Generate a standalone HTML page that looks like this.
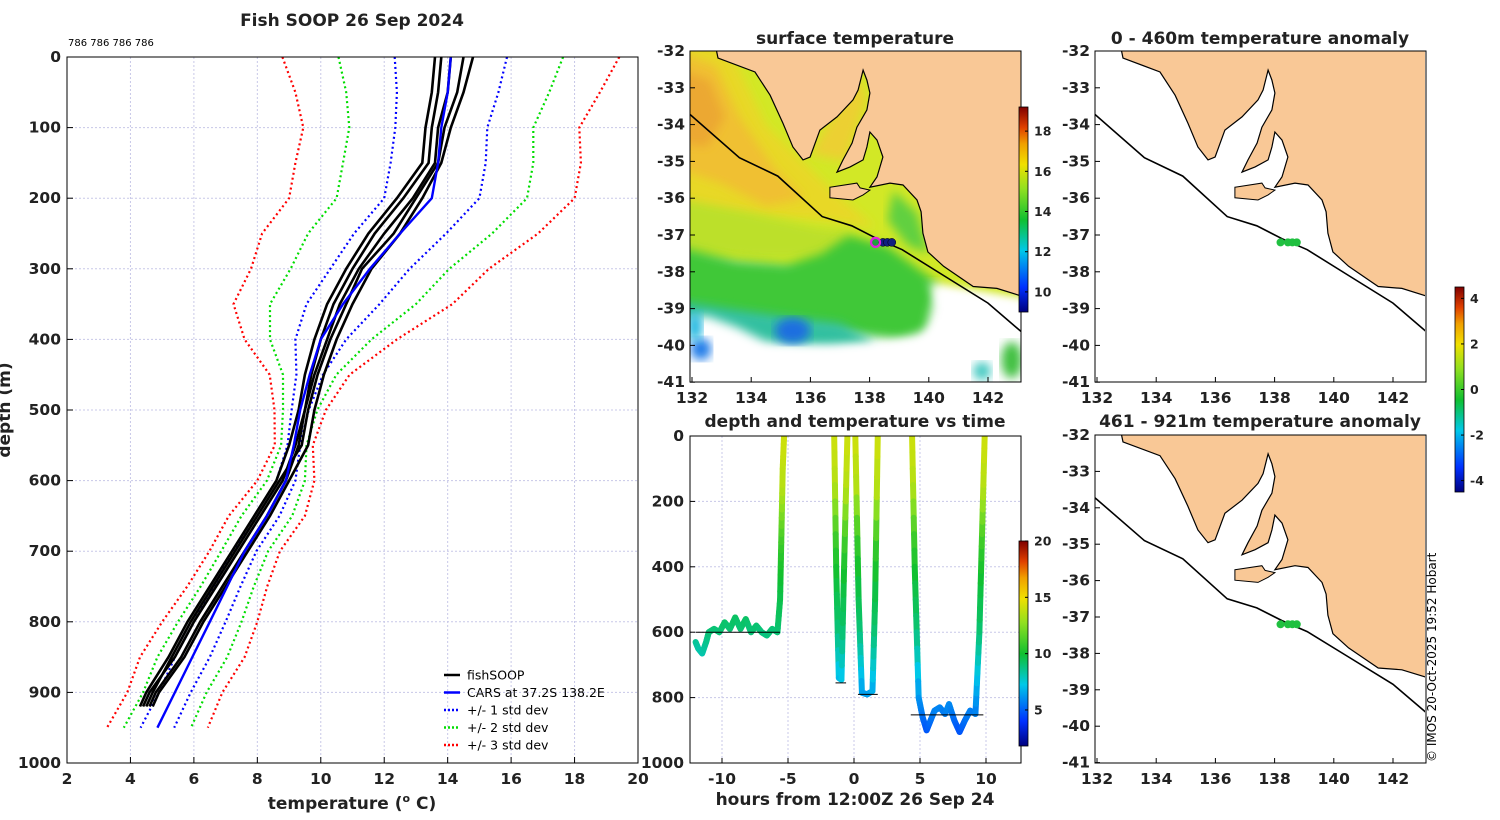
<!DOCTYPE html>
<html><head><meta charset="utf-8"><style>
html,body{margin:0;padding:0;background:#fff}
svg{display:block;font-family:"DejaVu Sans","Liberation Sans",sans-serif}
.t{font-weight:bold;font-size:17px;fill:#222}
.tk{font-weight:bold;font-size:15.5px;fill:#222}
</style></head><body>
<svg id="fig" width="1500" height="820" viewBox="0 0 1500 820" xmlns="http://www.w3.org/2000/svg">
<defs>
<linearGradient id="cm" x1="0" y1="1" x2="0" y2="0">
<stop offset="0" stop-color="#00007f"/><stop offset="0.12" stop-color="#0030ff"/><stop offset="0.3" stop-color="#00c8e8"/><stop offset="0.45" stop-color="#10c030"/><stop offset="0.6" stop-color="#90e020"/><stop offset="0.72" stop-color="#f0e000"/><stop offset="0.82" stop-color="#f0a000"/><stop offset="0.9" stop-color="#e04000"/><stop offset="1" stop-color="#7f0000"/>
</linearGradient>
<clipPath id="clipL"><rect x="67" y="57" width="571" height="706"/></clipPath>
<clipPath id="clipM1"><rect x="690" y="51" width="331" height="331"/></clipPath>
<clipPath id="clipM2"><rect x="690" y="436" width="331" height="327"/></clipPath>
<clipPath id="clipR1"><rect x="1095" y="51" width="330" height="331"/></clipPath>
<clipPath id="clipR2"><rect x="1095" y="435" width="330" height="328"/></clipPath>
<filter id="blur"><feGaussianBlur stdDeviation="5"/></filter>
</defs>
<text class="t" x="352" y="26" text-anchor="middle" font-size="17.5">Fish SOOP 26 Sep 2024</text>
<text x="68" y="46" font-size="10" fill="#000">786 786 786 786</text>
<text class="t" transform="translate(10,410) rotate(-90)" text-anchor="middle">depth (m)</text>
<text class="t" x="352" y="809" text-anchor="middle">temperature (<tspan font-size="11" dy="-7">o</tspan><tspan dy="7"> C)</tspan></text>
<text class="t" x="855" y="44" text-anchor="middle">surface temperature</text>
<text class="t" x="855" y="427" text-anchor="middle">depth and temperature vs time</text>
<text class="t" x="855" y="805" text-anchor="middle">hours from 12:00Z 26 Sep 24</text>
<text class="t" x="1260" y="44" text-anchor="middle">0 - 460m temperature anomaly</text>
<text class="t" x="1260" y="427" text-anchor="middle">461 - 921m temperature anomaly</text>
<text transform="translate(1436,762) rotate(-90)" font-size="12" fill="#000">© IMOS 20-Oct-2025 19:52 Hobart</text>
<g id="gL"></g>
<g id="gM1"></g>
<g id="gM2"></g>
<g id="gR1"></g>
<g id="gR2"></g>
<g id="gCB"></g>
</svg>
<script>
// ---- data ----
const depthStd = [0,50,100,150,200,250,300,350,400,450,500,550,600,650,700,750,800,850,900,950];
const carsTemp = [14.1,14.0,13.8,13.7,13.5,12.5,11.55,10.7,10.0,9.65,9.35,9.15,8.9,8.3,7.6,7.05,6.5,5.95,5.4,4.85];
const carsStd  = [1.77,1.6,1.45,1.5,1.5,1.45,1.25,1.15,0.8,0.42,0.27,0.2,0.3,0.4,0.37,0.42,0.5,0.55,0.5,0.53];
const fishDepth = [0,50,100,150,200,250,300,350,400,450,500,550,600,650,700,750,800,850,900,920];
const castA = [13.8,13.7,13.5,13.4,12.6,11.7,11.0,10.4,10.0,9.7,9.5,9.2,8.8,8.1,7.4,6.7,6.0,5.4,4.6,4.4];
const castB = [14.1,14.0,13.7,13.6,12.9,12.0,11.2,10.6,10.2,9.8,9.5,9.3,8.9,8.3,7.6,6.9,6.2,5.6,4.8,4.6];
const castC = [13.6,13.5,13.3,13.2,12.4,11.5,10.8,10.2,9.8,9.5,9.3,9.0,8.6,7.9,7.2,6.5,5.8,5.2,4.5,4.3];
const castD = [14.5,14.3,13.9,13.7,13.0,12.3,11.3,10.8,10.3,9.9,9.6,9.4,8.7,8.0,7.3,6.6,5.9,5.3,4.7,4.5];
const castE = [14.8,14.5,14.1,13.8,13.2,12.5,11.6,11.0,10.5,10.1,9.8,9.6,9.0,8.4,7.7,7.0,6.3,5.7,4.9,4.7];
const casts = [castA,castB,castC,castD,castE];
const tempTicks = [2,4,6,8,10,12,14,16,18,20];
const depthTicks = [0,100,200,300,400,500,600,700,800,900,1000];
const trackHours = [-12,-11.8,-11.5,-11.2,-11,-10.6,-10.2,-9.8,-9.4,-9,-8.6,-8.2,-7.8,-7.4,-7,-6.6,-6.2,-5.8,-5.6,-5.5,-5.4,-5.3,null,
 -1.5,-1.35,-1.15,-0.95,-0.75,-0.5,null,0.1,0.35,0.6,1.0,1.4,1.6,1.8,null,
 4.4,4.6,4.9,5.2,5.5,5.8,6.1,6.5,6.9,7.2,7.6,8.0,8.4,8.8,9.2,9.5,9.7,9.9];
const trackDepth = [630,650,665,630,600,590,600,570,590,555,590,560,600,580,600,610,590,600,500,300,100,0,null,
 0,400,740,745,400,0,null,0,500,785,790,780,500,0,null,
 0,400,800,860,900,870,840,830,850,820,870,905,870,840,850,600,300,0];
const bottomMarks = [[-12,-5.6,600],[-1.4,-0.6,755],[0.3,1.8,790],[4.3,9.8,853]];
const hourTicks = [-10,-5,0,5,10];
const trackDepthTicks = [0,200,400,600,800,1000];
const lonTicks = [132,134,136,138,140,142];
const latTicks = [-32,-33,-34,-35,-36,-37,-38,-39,-40,-41];
const fishLon = [138.2,138.45,138.6,138.75];
const fishLat = [-37.2,-37.2,-37.2,-37.2];
const sstTicks = [10,12,14,16,18];
const trackCbTicks = [5,10,15,20];
const anomTicks = [-4,-2,0,2,4];

const NS='http://www.w3.org/2000/svg';
function el(tag,attrs,parent){const e=document.createElementNS(NS,tag);for(const k in attrs)e.setAttribute(k,attrs[k]);parent.appendChild(e);return e;}
const gL=document.getElementById('gL');

// ---- profile panel ----
const X0=67,X1=638,Y0=57,Y1=763;
const xT=t=>X0+(t-2)/(18)*(X1-X0);
const yD=d=>Y0+d/1000*(Y1-Y0);
el('rect',{x:X0,y:Y0,width:X1-X0,height:Y1-Y0,fill:'#fff'},gL);
tempTicks.forEach(t=>{
 const l=el('line',{x1:xT(t),x2:xT(t),y1:Y0,y2:Y1,stroke:'#c8c8e8','stroke-dasharray':'2,2'},gL);
 
 el('line',{x1:xT(t),x2:xT(t),y1:Y1,y2:Y1-6,stroke:'#000'},gL);
 const tx=el('text',{x:xT(t),y:Y1+21,'text-anchor':'middle',class:'tk'},gL);tx.textContent=t;
 
});
depthTicks.forEach(d=>{
 const l=el('line',{x1:X0,x2:X1,y1:yD(d),y2:yD(d),stroke:'#c8c8e8','stroke-dasharray':'2,2'},gL);
 
 el('line',{x1:X0,x2:X0+6,y1:yD(d),y2:yD(d),stroke:'#000'},gL);
 const tx=el('text',{x:X0-6,y:yD(d)+5,'text-anchor':'end',class:'tk'},gL);tx.textContent=d;
 
});
const pg=el('g',{'clip-path':'url(#clipL)'},gL);
[[3,'#ff0000'],[2,'#00dd00'],[1,'#0000ff']].forEach(([k,c])=>{
 [-1,1].forEach(s=>{
  const pts=depthStd.map((d,i)=>xT(carsTemp[i]+s*k*carsStd[i]).toFixed(1)+','+yD(d).toFixed(1)).join(' ');
  const p=el('polyline',{points:pts,fill:'none',stroke:c,'stroke-width':2.2,'stroke-dasharray':'2,3'},pg);
  
 });
});
casts.forEach((c,j)=>{
 const pts=fishDepth.map((d,i)=>xT(c[i]).toFixed(1)+','+yD(d).toFixed(1)).join(' ');
 const p=el('polyline',{points:pts,fill:'none',stroke:'#000','stroke-width':2.6},pg);
 
});
{const pts=depthStd.map((d,i)=>xT(carsTemp[i]).toFixed(1)+','+yD(d).toFixed(1)).join(' ');
 const p=el('polyline',{points:pts,fill:'none',stroke:'#0000ff','stroke-width':2.4},pg);
 }
el('rect',{x:X0,y:Y0,width:X1-X0,height:Y1-Y0,fill:'none',stroke:'#000','stroke-width':1},gL);
const leg=el('g',{},gL);

[['fishSOOP','#000',''],['CARS at 37.2S 138.2E','#0000ff',''],['+/- 1 std dev','#0000ff','2,2'],['+/- 2 std dev','#00dd00','2,2'],['+/- 3 std dev','#ff0000','2,2']].forEach((e,i)=>{
 const y=675+i*17.5;
 el('line',{x1:444,x2:460,y1:y,y2:y,stroke:e[1],'stroke-width':2.5,'stroke-dasharray':e[2]||'none'},leg);
 const t=el('text',{x:467,y:y+4.5,'font-size':12.5,fill:'#000'},leg);t.textContent=e[0];
 
});

// ---- colormap ----
const stops=[[0,[0,0,127]],[0.12,[0,48,255]],[0.3,[0,200,232]],[0.45,[16,192,48]],[0.6,[144,224,32]],[0.72,[240,224,0]],[0.82,[240,160,0]],[0.9,[224,64,0]],[1,[127,0,0]]];
function cmap(t){t=Math.max(0,Math.min(1,t));for(let i=1;i<stops.length;i++){if(t<=stops[i][0]){const a=stops[i-1],b=stops[i],f=(t-a[0])/(b[0]-a[0]);return 'rgb('+a[1].map((v,k)=>Math.round(v+f*(b[1][k]-v))).join(',')+')';}}return 'rgb(127,0,0)';}

// ---- maps ----
const MX0=690,MX1=1021;
function proj(x0,y0,ysc){return (lon,lat)=>[x0+(lon-132)*29.6,y0+(-32-lat)*ysc];}
const land=[[132.7,-31.5],[132.88,-32.19],[134.13,-32.57],[134.64,-33.20],[135.07,-33.96],[135.41,-34.61],[135.75,-34.96],[135.99,-34.88],[136.32,-34.15],[136.90,-33.79],[137.44,-33.33],[137.61,-33.06],[137.78,-32.52],[137.91,-32.79],[138.01,-33.14],[137.91,-33.60],[137.57,-34.07],[137.41,-34.50],[137.10,-34.96],[136.90,-35.29],[137.34,-35.15],[137.78,-34.96],[137.91,-34.61],[138.01,-34.20],[138.25,-34.42],[138.45,-34.88],[138.25,-35.42],[138.01,-35.70],[138.69,-35.59],[139.13,-35.64],[139.60,-36.05],[139.74,-36.37],[139.8,-36.95],[139.97,-37.46],[140.5,-37.85],[141.5,-38.4],[142.3,-38.45],[143.3,-38.7],[143.3,-31.5]];
const kangaroo=[[136.66,-35.70],[137.57,-35.59],[137.68,-35.72],[138.01,-35.78],[137.78,-35.91],[137.44,-36.05],[136.66,-35.99]];
const shelf=[[131.9,-33.7],[133.6,-34.9],[134.9,-35.4],[136.4,-36.5],[137.4,-36.75],[138.25,-37.1],[139.1,-37.4],[140.5,-38.1],[142.0,-38.85],[143.3,-39.75]];
function poly(P,pts){return pts.map(p=>P(p[0],p[1]).map(v=>v.toFixed(1)).join(',')).join(' ');}
function drawMap(g,P,clip,sst,x0,y0,ysc,h){
 const cg=el('g',{'clip-path':'url(#'+clip+')'},g);
 if(sst){
  const sg=el('g',{},cg);
  
  const fields=[
   ['#d2e828',[[131.5,-31.5],[143.5,-31.5],[143.5,-38.8],[140,-38.4],[131.5,-37.6]]],
   ['#e8d828',[[131.5,-31.5],[133.0,-31.5],[134.5,-34.0],[136.5,-35.6],[138.2,-36.8],[136.5,-36.6],[134.5,-36.5],[131.5,-36.3]]],
   ['#ecd030',[[136.0,-34.8],[137.6,-32.6],[137.9,-33.3],[137.2,-35.0]]],
   ['#f0c030',[[131.5,-32.0],[132.8,-32.4],[133.6,-33.8],[134.8,-35.2],[135.8,-36.0],[134.5,-36.2],[133.0,-35.6],[131.5,-35.2]]],
   ['#eca830',[[131.6,-32.5],[132.6,-32.8],[133.1,-33.8],[132.5,-34.6],[131.6,-34.5]]],
   ['#bce02c',[[131.5,-36.0],[134,-36.4],[136.2,-36.8],[137.4,-36.9],[137,-37.6],[134,-37.6],[131.5,-37.4]]],
   ['#40c838',[[131.5,-37.3],[133.5,-37.7],[135.2,-37.8],[136.4,-37.5],[137.3,-37.0],[138.6,-37.3],[140.3,-38.3],[139.8,-39.9],[131.5,-39.2]]],
   ['#60d040',[[138.8,-35.8],[139.6,-36.4],[140.0,-37.5],[139.3,-37.3],[138.6,-36.6]]],
   ['#30c0a0',[[131.5,-38.8],[133.2,-39.0],[135,-39.2],[137,-39.4],[138.2,-39.9],[131.5,-40.3]]],
   ['#ffffff',[[131.5,-39.3],[132.5,-39.2],[133.5,-39.5],[134.5,-39.9],[136.8,-40.1],[138.5,-40.0],[140.2,-39.5],[141.0,-38.7],[143.5,-39.5],[143.5,-41.5],[131.5,-41.5]]],
   ['#ffffff',[[140.0,-38.3],[141.5,-38.55],[143.5,-38.85],[143.5,-39.8],[141.5,-39.3],[140.3,-38.9]]]
  ];
  fields.forEach(f=>el('polygon',{points:poly(P,f[1]),fill:f[0],filter:'url(#blur)'},sg));
  [[135.4,-39.6,0.6,0.35,'#1a6ee0'],[132.3,-40.1,0.35,0.3,'#1a7ae8'],[142.8,-40.4,0.35,0.5,'#40c040'],[132.1,-39.5,0.25,0.4,'#20b8e0'],[141.8,-40.7,0.3,0.25,'#40c8c0']].forEach(b=>{
   const c=P(b[0],b[1]);el('ellipse',{cx:c[0],cy:c[1],rx:b[2]*29.6,ry:b[3]*ysc,fill:b[4],filter:'url(#blur)'},sg);
  });
 }
 const lp=el('polygon',{points:poly(P,land),fill:'#f9c896',stroke:'#000','stroke-width':1.2},cg);
 
 el('polygon',{points:poly(P,kangaroo),fill:'#f9c896',stroke:'#000','stroke-width':1},cg);
 const sl=el('polyline',{points:poly(P,shelf),fill:'none',stroke:'#000','stroke-width':1.6},cg);
 
 fishLon.forEach((lo,i)=>{
  const c=P(lo,fishLat[i]);
  const d=el('circle',{cx:c[0],cy:c[1],r:4,fill:sst?(i==0?'#20a040':'#102080'):'#20c040',stroke:sst?'#000':'none','stroke-width':0.5},cg);
  
 });
 if(sst){const c=P(fishLon[0],fishLat[0]);el('circle',{cx:c[0],cy:c[1],r:4.5,fill:'none',stroke:'#e020e0','stroke-width':2.2},cg);}
 el('rect',{x:x0,y:y0,width:MX1-MX0,height:h,fill:'none',stroke:'#000'},g);
 lonTicks.forEach(lo=>{const x=P(lo,-32)[0];
  el('line',{x1:x,x2:x,y1:y0+h,y2:y0+h-5,stroke:'#000'},g);
  const t=el('text',{x:x,y:y0+h+21,'text-anchor':'middle',class:'tk'},g);t.textContent=lo;
  });
 latTicks.forEach(la=>{const y=P(132,la)[1];
  el('line',{x1:x0,x2:x0+5,y1:y,y2:y,stroke:'#000'},g);
  const t=el('text',{x:x0-5,y:y+5,'text-anchor':'end',class:'tk'},g);t.textContent=la;
  });
}
drawMap(document.getElementById('gM1'),proj(692,51,36.8),'clipM1',true,690,51,36.8,331);
drawMap(document.getElementById('gR1'),proj(1097,51,36.8),'clipR1',false,1095,51,36.8,331);
drawMap(document.getElementById('gR2'),proj(1097,435,36.4),'clipR2',false,1095,435,36.4,328);

// ---- track panel ----
const gM2=document.getElementById('gM2');
const TX0=690,TX1=1021,TY0=436,TY1=763;
const xH=h=>854+h*13.2;
const yTd=d=>TY0+d/1000*(TY1-TY0);
hourTicks.forEach(h=>{
 el('line',{x1:xH(h),x2:xH(h),y1:TY0,y2:TY1,stroke:'#c8c8e8','stroke-dasharray':'2,2'},gM2);
 el('line',{x1:xH(h),x2:xH(h),y1:TY1,y2:TY1-5,stroke:'#000'},gM2);
 const t=el('text',{x:xH(h),y:TY1+21,'text-anchor':'middle',class:'tk'},gM2);t.textContent=h;
 
});
trackDepthTicks.forEach(d=>{
 el('line',{x1:TX0,x2:TX1,y1:yTd(d),y2:yTd(d),stroke:'#c8c8e8','stroke-dasharray':'2,2'},gM2);
 el('line',{x1:TX0,x2:TX0+5,y1:yTd(d),y2:yTd(d),stroke:'#000'},gM2);
 const t=el('text',{x:TX0-6,y:yTd(d)+5,'text-anchor':'end',class:'tk'},gM2);t.textContent=d;
 
});
function tempAt(d){for(let i=1;i<fishDepth.length;i++){if(d<=fishDepth[i]){const f=(d-fishDepth[i-1])/(fishDepth[i]-fishDepth[i-1]);return castB[i-1]+f*(castB[i]-castB[i-1]);}}return castB[castB.length-1]-(d-920)*0.01;}
const tg=el('g',{'clip-path':'url(#clipM2)'},gM2);

for(let i=1;i<trackHours.length;i++){
 if(trackHours[i]==null||trackHours[i-1]==null)continue;
 const n=8;
 for(let k=0;k<n;k++){
  const f0=k/n,f1=(k+1)/n;
  const h0=trackHours[i-1]+f0*(trackHours[i]-trackHours[i-1]),h1=trackHours[i-1]+f1*(trackHours[i]-trackHours[i-1]);
  const d0=trackDepth[i-1]+f0*(trackDepth[i]-trackDepth[i-1]),d1=trackDepth[i-1]+f1*(trackDepth[i]-trackDepth[i-1]);
  const tm=tempAt((d0+d1)/2);
  el('line',{x1:xH(h0),y1:yTd(d0),x2:xH(h1),y2:yTd(d1),stroke:cmap((tm-1.8)/18.2),'stroke-width':6,'stroke-linecap':'round'},tg);
 }
}
bottomMarks.forEach(b=>{
 const l=el('line',{x1:xH(b[0]),x2:xH(b[1]),y1:yTd(b[2]),y2:yTd(b[2]),stroke:'#000','stroke-width':1},gM2);
 
});
el('rect',{x:TX0,y:TY0,width:TX1-TX0,height:TY1-TY0,fill:'none',stroke:'#000'},gM2);

// ---- colorbars ----
const gCB=document.getElementById('gCB');
function colorbar(x,y0,y1,vmin,vmax,ticks,name){
 const g=el('g',{},gCB);
 
 el('rect',{x:x,y:y0,width:9,height:y1-y0,fill:'url(#cm)',stroke:'#000','stroke-width':0.8},g);
 ticks.forEach(v=>{const y=y1-(v-vmin)/(vmax-vmin)*(y1-y0);
  el('line',{x1:x+6,x2:x+9,y1:y,y2:y,stroke:'#000'},g);
  const t=el('text',{x:x+15,y:y+4.5,'font-size':12.5,'font-weight':'bold',fill:'#222'},g);t.textContent=v;
  });
}
colorbar(1019,107,312,9.0,19.2,sstTicks,'sst-colorbar');
colorbar(1019,541,746,1.8,20,trackCbTicks,'track-colorbar');
colorbar(1455,287,492,-4.5,4.5,anomTicks,'anomaly-colorbar');
</script>
</body></html>
